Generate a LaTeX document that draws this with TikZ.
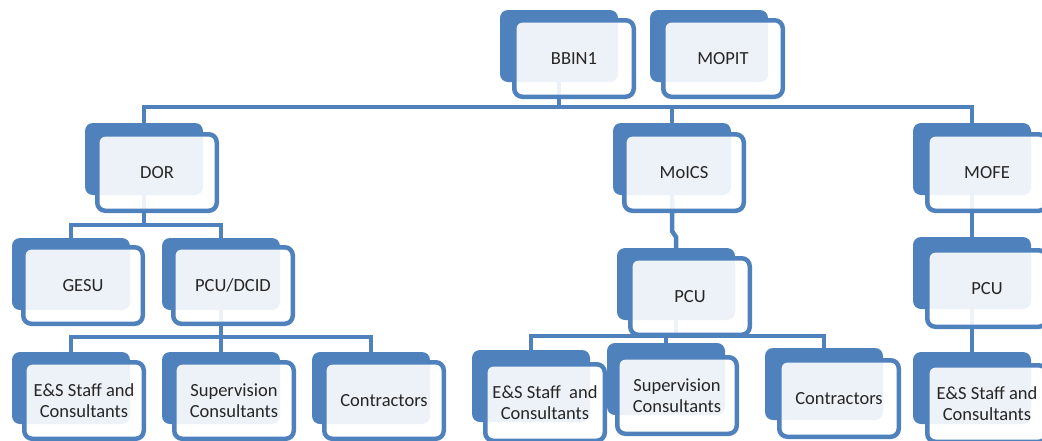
\documentclass[tikz,border=0pt]{standalone}
\usepackage{fontspec}
\setmainfont{Carlito}
\pgfdeclarelayer{bg}
\pgfsetlayers{bg,main}
\definecolor{obl}{HTML}{4F81BD}
\definecolor{otx}{HTML}{262626}
\tikzset{
 backbox/.style={fill=obl, draw=none, rounded corners=8pt, minimum width=118pt, minimum height=72pt, inner sep=0pt},
 frontbox/.style={draw=obl, line width=4.5pt, fill=white, fill opacity=0.9, text opacity=1, rounded corners=8pt, minimum width=119.5pt, minimum height=76.5pt, inner sep=0pt, align=center, text=otx, font=\fontsize{18.5}{20.5}\selectfont},
 link/.style={draw=obl, line width=4.5pt},
}
\newcommand\orgbox[6]{%
 \node[backbox] (#1-b) at (#2+59,#3+36) {};
 \node[frontbox] (#1) at (#4+62,#5+40.5) {#6};}
\begin{document}
\begin{tikzpicture}[x=1pt,y=-1pt]
\useasboundingbox (0,0) rectangle (1042,440);
\orgbox{bbin}{500}{10}{512}{18}{BBIN1}
\orgbox{mopit}{650}{10}{661}{18}{MOPIT}
\orgbox{dor}{85}{123}{95}{132}{DOR}
\orgbox{moics}{613}{123}{622}{132}{MoICS}
\orgbox{mofe}{913}{123}{925}{132}{MOFE}
\orgbox{gesu}{12}{238}{21}{245}{GESU}
\orgbox{dcid}{162}{238}{171}{245}{PCU/DCID}
\orgbox{pcu2}{617}{248}{628}{256}{PCU}
\orgbox{pcu3}{913}{237}{925}{248}{PCU}
\orgbox{esl}{12}{352}{22}{360}{E\&S Staff and\\Consultants}
\orgbox{supl}{162}{352}{172}{360}{Supervision\\Consultants}
\orgbox{conl}{312}{352}{322}{360}{Contractors}
\orgbox{esm}{472}{350}{483}{362}{E\&S Staff\ \ and\\Consultants}
\orgbox{supm}{607}{343}{615}{355}{Supervision\\Consultants}
\orgbox{conm}{765}{348}{777}{358}{Contractors}
\orgbox{esr}{913}{352}{925}{363}{E\&S Staff and\\Consultants}
\coordinate (bus) at (559,107);
\begin{pgfonlayer}{bg}
\draw[link] (bbin-b.south) -- (bbin-b.south |- bus);
\draw[link] (dor-b.north) |- (bus) -| (mofe-b.north);
\draw[link] (moics-b.north) -- (moics-b.north |- bus);
\draw[link] (dor-b.south) -- (dor-b.south |- 0,225);
\draw[link] (gesu-b.north) |- (dor-b.south |- 0,225) -| (dcid-b.north);
\draw[link] (dcid-b.south) -- (dcid-b.south |- 0,337);
\draw[link] (esl-b.north) |- (dcid-b.south |- 0,337) -| (conl-b.north);
\draw[link] (supl-b.north) -- (supl-b.north |- 0,337);
\draw[link] (moics-b.south) -- (moics-b.south |- 0,231) -- (pcu2-b.north |- 0,237) -- (pcu2-b.north);
\draw[link] (pcu2-b.south) -- (pcu2-b.south |- 0,336);
\draw[link] (esm-b.north) |- (pcu2-b.south |- 0,336) -| (conm-b.north);
\draw[link] (supm-b.north) -- (supm-b.north |- 0,336);
\draw[link] (mofe-b.south) -- (pcu3-b.north);
\draw[link] (pcu3-b.south) -- (esr-b.north);
\end{pgfonlayer}
\end{tikzpicture}
\end{document}
